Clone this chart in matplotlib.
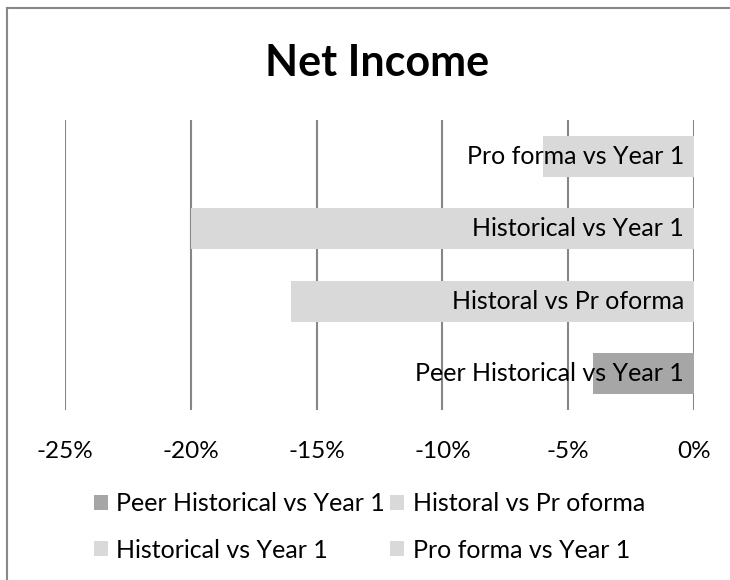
import matplotlib.pyplot as plt
from matplotlib.lines import Line2D

plt.rcParams['font.family'] = ['Lato', 'DejaVu Sans']

# data (bottom to top)
categories = ["Peer Historical vs Year 1", "Historal vs Pr oforma",
              "Historical vs Year 1", "Pro forma vs Year 1"]
values = [-4, -16, -20, -6]
colors = ["#a6a6a6", "#d9d9d9", "#d9d9d9", "#d9d9d9"]
xticks = [-25, -20, -15, -10, -5, 0]

fig = plt.figure(figsize=(7.3, 5.8), dpi=100)
ax = fig.add_axes([65/730, 1 - 410/580, 629/730, 290/580])

bars = []
for i, (cat, v, c) in enumerate(zip(categories, values, colors)):
    b = ax.barh(i, v, height=0.56, color=c, label=cat, zorder=2)
    bars.append(b)
    ax.text(-0.4, i, cat, ha='right', va='center', fontsize=18, zorder=3)

ax.set_xlim(-25, 0)
ax.set_ylim(-0.5, 3.5)
ax.set_xticks(xticks)
ax.set_xticklabels([f"{t}%" for t in xticks], fontsize=17.5)
ax.tick_params(axis='x', length=0, pad=22)
ax.set_yticks([])
ax.grid(axis='x', color='#868686', linewidth=1.5, zorder=1)
for s in ax.spines.values():
    s.set_visible(False)

fig.text(377/730, 1 - 63/580, "Net Income", ha='center', va='center',
         fontsize=31, fontweight='bold')

# legend order column-major
order = [0, 2, 1, 3]
leg = fig.legend([bars[i] for i in order], [categories[i] for i in order],
                 ncol=2, loc='upper left', bbox_to_anchor=(94/730, 1 - 492/580),
                 frameon=False, fontsize=18, handlelength=0.55, handleheight=0.55,
                 handletextpad=0.35, columnspacing=0.2, labelspacing=0.95,
                 borderaxespad=0, borderpad=0)

# outer chart border
fig.add_artist(Line2D([7/730, 7/730], [0, 1 - 8/580], color='#888888', lw=1.5))
fig.add_artist(Line2D([7/730, 1], [1 - 8/580, 1 - 8/580], color='#888888', lw=1.5))

fig.savefig("out.png", dpi=100)
